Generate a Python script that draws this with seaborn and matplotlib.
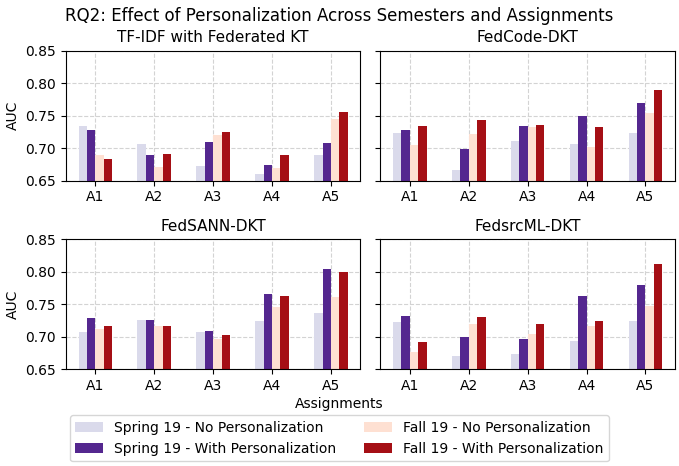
import numpy as np
import pandas as pd
import matplotlib
matplotlib.use("Agg")
import matplotlib.pyplot as plt
import seaborn as sns

assignments = ["A1", "A2", "A3", "A4", "A5"]
conditions = ["Spring 19 - No Personalization", "Spring 19 - With Personalization",
              "Fall 19 - No Personalization", "Fall 19 - With Personalization"]
models = ["TF-IDF with Federated KT", "FedCode-DKT", "FedSANN-DKT", "FedsrcML-DKT"]

# AUC per assignment, one list per condition
tfidf_spring_no = [0.734, 0.707, 0.673, 0.660, 0.690]
tfidf_spring_with = [0.728, 0.690, 0.710, 0.674, 0.708]
tfidf_fall_no = [0.690, 0.671, 0.721, 0.670, 0.745]
tfidf_fall_with = [0.684, 0.691, 0.725, 0.690, 0.756]

code_spring_no = [0.724, 0.667, 0.711, 0.707, 0.724]
code_spring_with = [0.728, 0.699, 0.734, 0.749, 0.769]
code_fall_no = [0.705, 0.722, 0.733, 0.702, 0.755]
code_fall_with = [0.734, 0.744, 0.736, 0.733, 0.790]

sann_spring_no = [0.707, 0.725, 0.707, 0.724, 0.736]
sann_spring_with = [0.728, 0.725, 0.708, 0.765, 0.804]
sann_fall_no = [0.711, 0.716, 0.697, 0.745, 0.761]
sann_fall_with = [0.716, 0.717, 0.702, 0.762, 0.800]

src_spring_no = [0.722, 0.670, 0.673, 0.693, 0.724]
src_spring_with = [0.731, 0.699, 0.697, 0.763, 0.779]
src_fall_no = [0.677, 0.719, 0.704, 0.716, 0.747]
src_fall_with = [0.691, 0.730, 0.719, 0.724, 0.812]

model_values = {
    "TF-IDF with Federated KT": [tfidf_spring_no, tfidf_spring_with, tfidf_fall_no, tfidf_fall_with],
    "FedCode-DKT": [code_spring_no, code_spring_with, code_fall_no, code_fall_with],
    "FedSANN-DKT": [sann_spring_no, sann_spring_with, sann_fall_no, sann_fall_with],
    "FedsrcML-DKT": [src_spring_no, src_spring_with, src_fall_no, src_fall_with],
}

rows = []
for m in models:
    for cond, vals in zip(conditions, model_values[m]):
        for a, v in zip(assignments, vals):
            rows.append(dict(model=m, condition=cond, assignment=a, auc=v))
df = pd.DataFrame(rows)

palette = ["#dadaeb", "#54278f", "#fee0d2", "#a50f15"]

fig, axes = plt.subplots(2, 2, figsize=(6.79, 4.66), dpi=100, sharey=True)
for ax, m in zip(axes.flat, models):
    sns.barplot(data=df[df.model == m], x="assignment", y="auc", hue="condition",
                hue_order=conditions, order=assignments, palette=palette,
                width=0.57, gap=0, saturation=1, ax=ax, legend=True)
    ax.set_title(m, fontsize=11)
    ax.set_ylim(0.65, 0.85)
    ax.set_yticks([0.65, 0.70, 0.75, 0.80, 0.85])
    ax.grid(True, linestyle="--", color="#d3d3d3", linewidth=0.8)
    ax.set_axisbelow(True)
    ax.set_xlabel("")
    ax.set_ylabel("AUC" if ax in axes[:, 0] else "")
    ax.get_legend().remove()

handles, labels = axes[0, 0].get_legend_handles_labels()
fig.legend(handles, labels, loc="lower center", ncol=2, bbox_to_anchor=(0.5, -0.005))
fig.suptitle("RQ2: Effect of Personalization Across Semesters and Assignments", fontsize=12, y=0.985)
fig.supxlabel("Assignments", fontsize=10, y=0.118)
fig.subplots_adjust(left=0.097, right=0.994, top=0.891, bottom=0.208, hspace=0.45, wspace=0.068)
fig.savefig("out.png", dpi=100)
